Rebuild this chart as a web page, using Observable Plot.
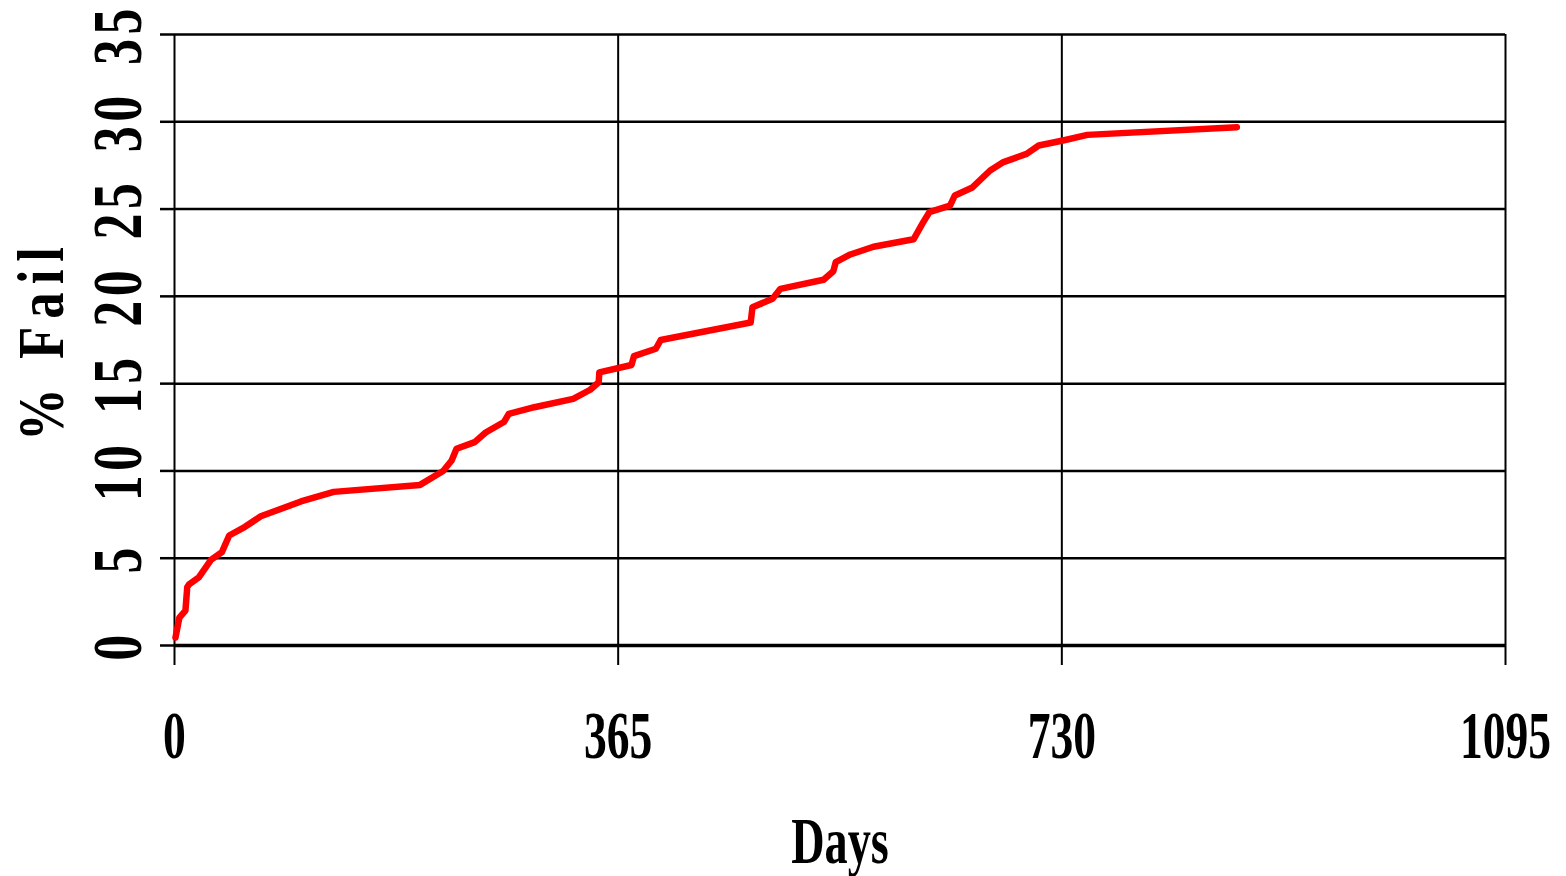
<!DOCTYPE html>
<html>
<head>
<meta charset="utf-8">
<script src="https://cdn.jsdelivr.net/npm/d3@7"></script>
<script src="https://cdn.jsdelivr.net/npm/@observablehq/plot@0.6"></script>
<style>
  html, body { margin: 0; padding: 0; background: #fff; }
</style>
</head>
<body>
<div id="chart"></div>
<script>
const days = [0.8, 4, 9, 10.5, 12, 20, 30, 39, 45, 58, 71, 104, 131, 202, 221, 228, 232, 247, 256, 271, 275, 296, 328, 342, 349, 349.5, 376, 378, 396, 400, 474, 475.5, 492, 498.5, 534, 542, 544, 556, 575, 608, 616, 621, 638, 642, 656, 671, 682, 701, 711, 731, 751, 874];
const pctFail = [0.45, 1.6, 2.0, 3.35, 3.5, 3.9, 4.9, 5.35, 6.3, 6.8, 7.4, 8.25, 8.8, 9.2, 10.0, 10.6, 11.27, 11.65, 12.2, 12.8, 13.27, 13.65, 14.13, 14.65, 15.08, 15.65, 16.07, 16.58, 17.0, 17.5, 18.5, 19.38, 19.86, 20.43, 20.95, 21.44, 21.96, 22.4, 22.84, 23.27, 24.25, 24.82, 25.2, 25.78, 26.22, 27.21, 27.69, 28.16, 28.64, 28.93, 29.25, 29.69];
const xTicks = [0, 365, 730, 1095];
const yTicks = [0, 5, 10, 15, 20, 25, 30, 35];
const xTitle = "Days";
const yTitle = "% Fail";

const data = days.map((d, i) => ({day: d, pct: pctFail[i]}));

const chart = Plot.plot({
  width: 1566,
  height: 876,
  marginLeft: 174,
  marginRight: 61,
  marginTop: 34,
  marginBottom: 231,
  style: {fontFamily: "'Liberation Serif', 'Times New Roman', serif", fontWeight: "bold", background: "#fff", color: "#000"},
  x: {domain: [0, 1095]},
  y: {domain: [0, 35]},
  marks: [
    Plot.ruleY(yTicks, {stroke: "#000", strokeWidth: 2.5}),
    Plot.ruleX(xTicks, {stroke: "#000", strokeWidth: 2}),
    Plot.ruleY([0], {stroke: "#000", strokeWidth: 3.5}),
    Plot.axisX({ticks: xTicks, tickSize: 20, strokeWidth: 2, label: null, tickFormat: () => ""}),
    Plot.axisY({ticks: yTicks, tickSize: 14, strokeWidth: 2.5, label: null, tickFormat: () => ""}),
    Plot.text(xTicks, {x: d => d, text: d => String(d), frameAnchor: "bottom", dy: 112, textAnchor: "middle", lineAnchor: "bottom", fontSize: 67, fontWeight: "bold", className: "xlab"}),
    Plot.text(yTicks, {y: d => d, text: d => String(d), frameAnchor: "left", dx: -34, rotate: -90, textAnchor: "middle", lineAnchor: "bottom", fontSize: 69, fontWeight: "bold", className: "ylab"}),
    Plot.text([yTitle], {text: d => d, frameAnchor: "left", dx: -112, rotate: -90, textAnchor: "middle", lineAnchor: "bottom", fontSize: 66, fontWeight: "bold", className: "ytitle"}),
    Plot.text([xTitle], {text: d => d, frameAnchor: "bottom", dy: 217, textAnchor: "middle", lineAnchor: "bottom", fontSize: 66, fontWeight: "bold", className: "xtitle"}),
    Plot.line(data, {x: "day", y: "pct", stroke: "#ff0000", strokeWidth: 6.5, strokeLinejoin: "round", strokeLinecap: "round"})
  ]
});
document.getElementById("chart").appendChild(chart);

function condense(sel, s, spacing) {
  chart.querySelectorAll(sel + " text").forEach(t => {
    if (!t.textContent) return;
    if (spacing) t.setAttribute("letter-spacing", spacing);
    const L = t.getComputedTextLength();
    t.setAttribute("textLength", (L * s).toFixed(1));
    t.setAttribute("lengthAdjust", "spacingAndGlyphs");
  });
}
condense(".xlab", 0.68);
condense(".ylab", 0.75, 6);
condense(".ytitle", 0.8, 10);
condense(".xtitle", 0.7);
</script>
</body>
</html>
